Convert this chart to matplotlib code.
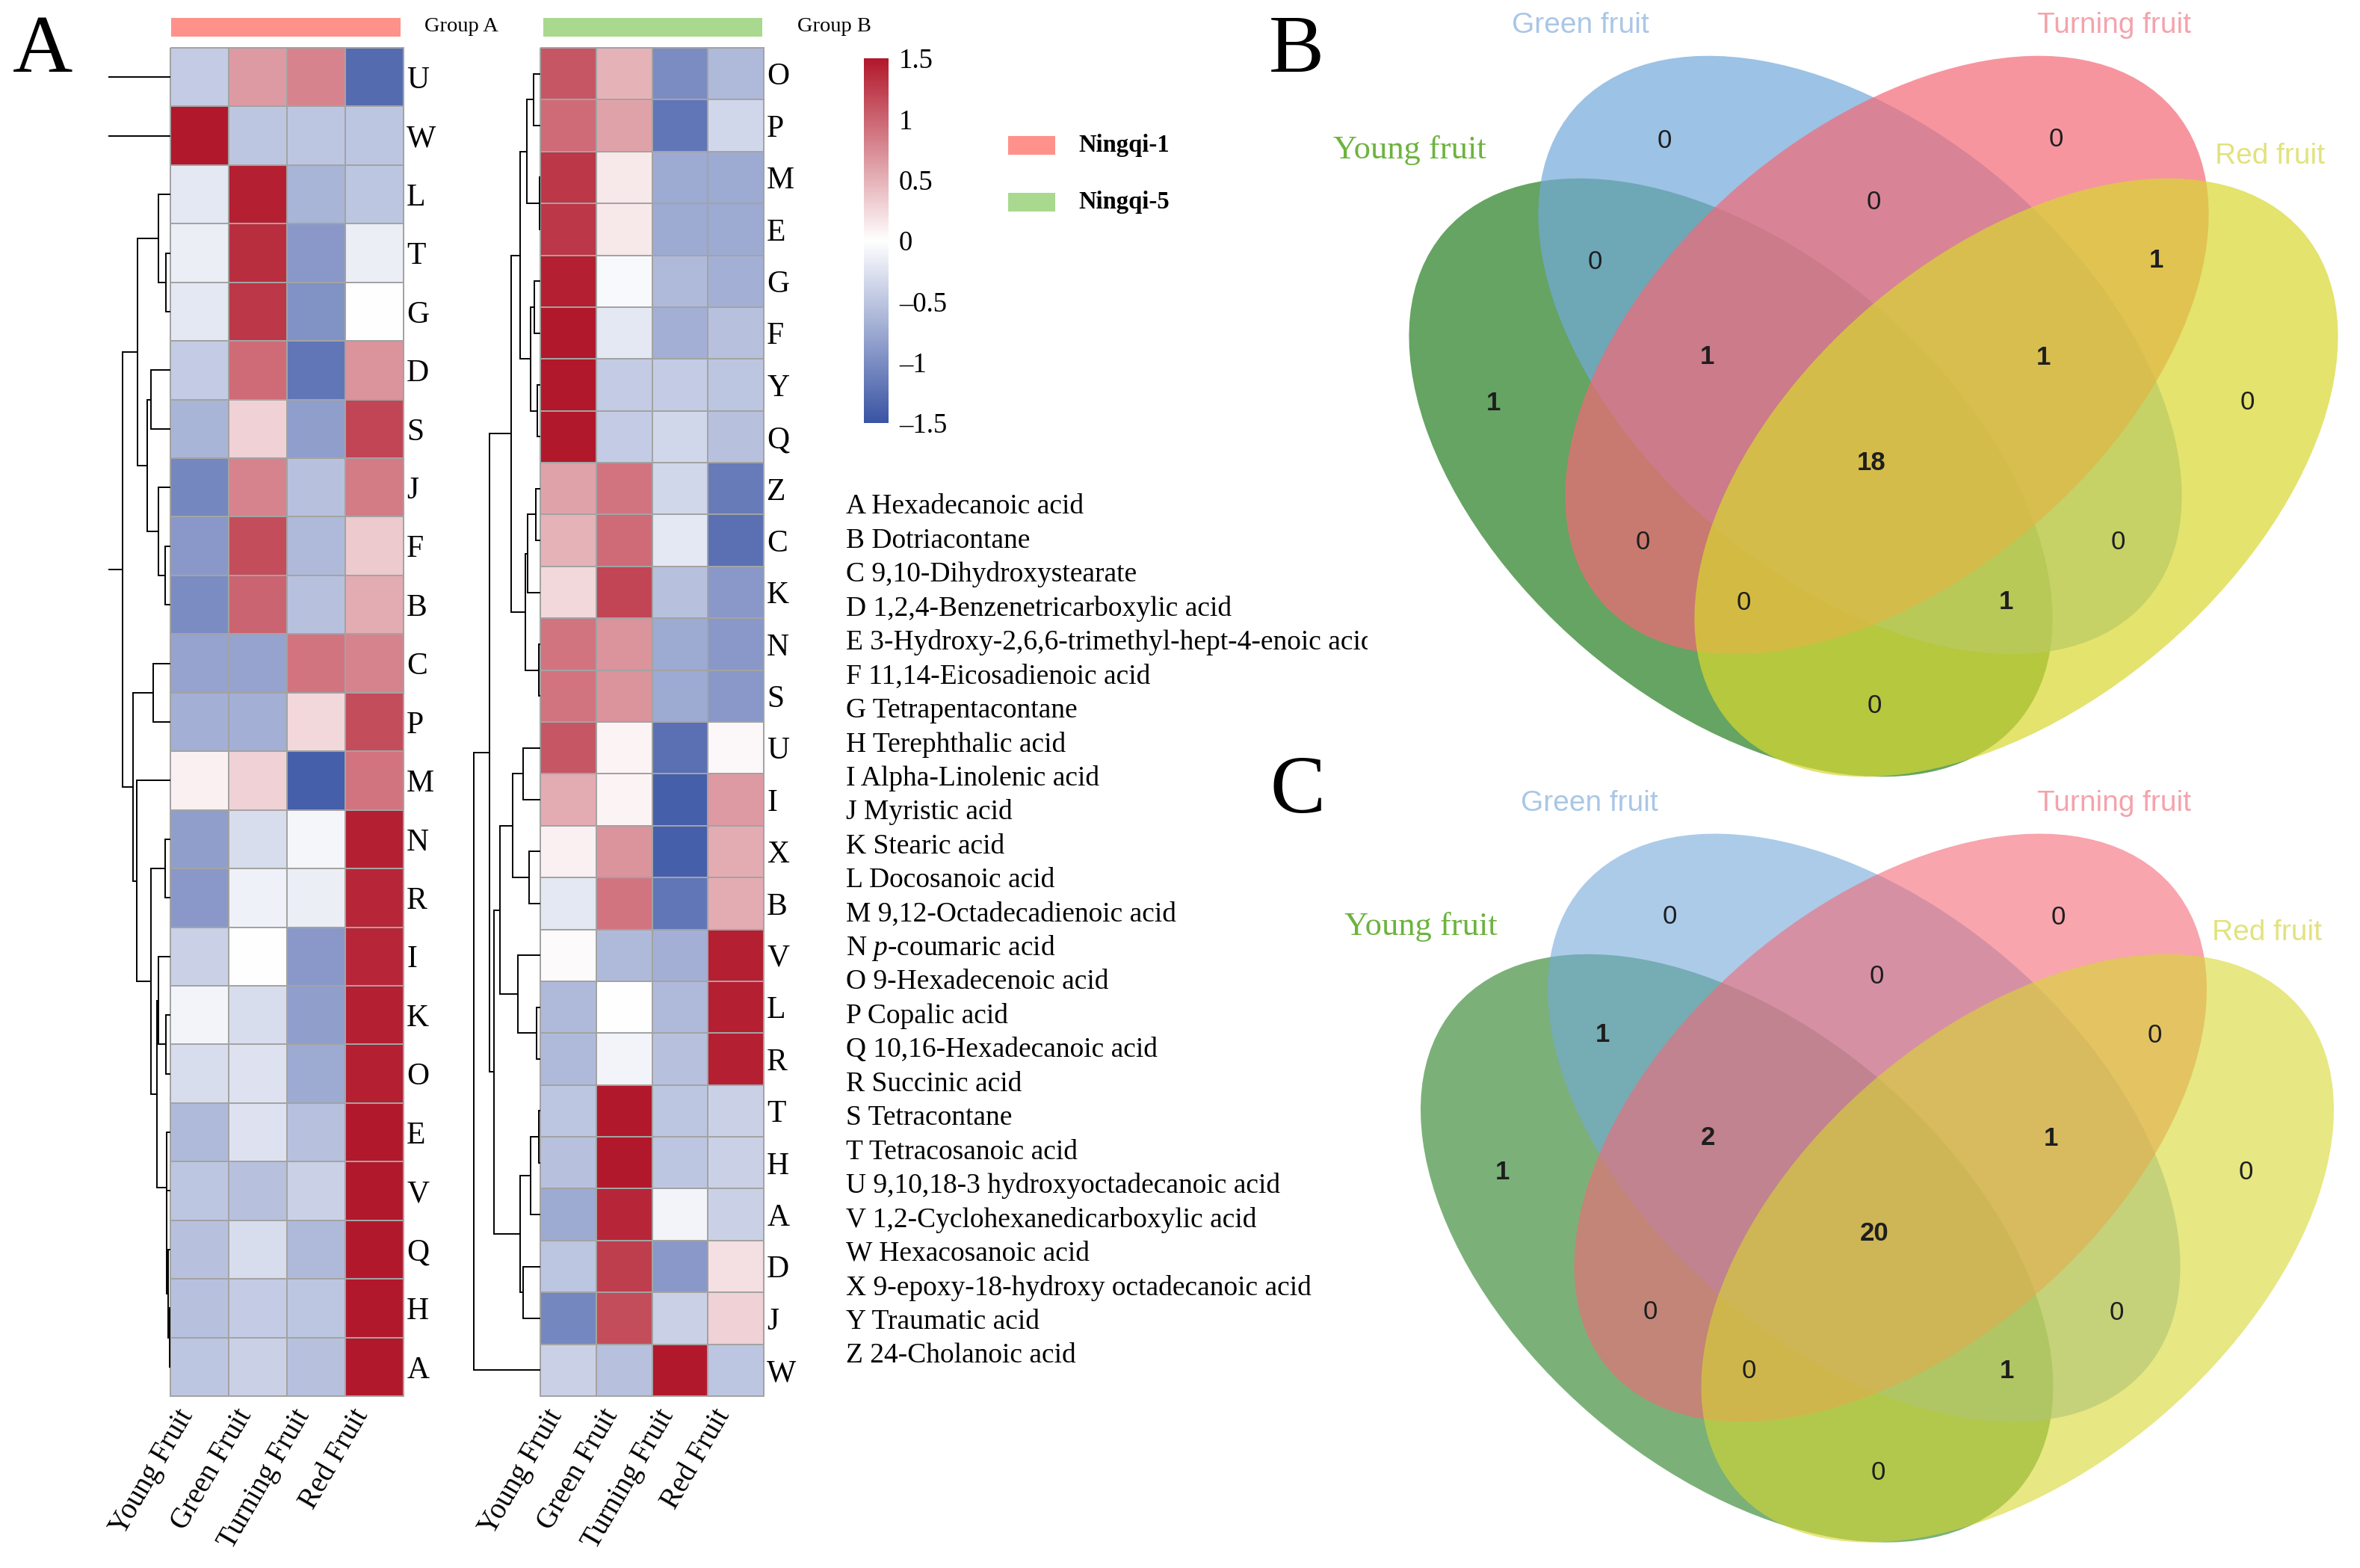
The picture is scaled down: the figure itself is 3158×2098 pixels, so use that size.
import numpy as np
import matplotlib
matplotlib.use("Agg")
import matplotlib.pyplot as plt
from matplotlib.colors import LinearSegmentedColormap, Normalize
from matplotlib.cm import ScalarMappable
from matplotlib.patches import Ellipse, Rectangle

W, H = 3158, 2098
DPI = 100

plt.rcParams['font.family'] = ['Liberation Serif', 'DejaVu Serif']
plt.rcParams['mathtext.fontset'] = 'custom'
plt.rcParams['mathtext.rm'] = 'Liberation Serif'
plt.rcParams['mathtext.it'] = 'Liberation Serif:italic'

# —— data —— #
stages = ["Young Fruit", "Green Fruit", "Turning Fruit", "Red Fruit"]

# Ningqi-1 (group A), z-scores
rows_a = ["U", "W", "L", "T", "G", "D", "S", "J", "F", "B", "C", "P",
          "M", "N", "R", "I", "K", "O", "E", "V", "Q", "H", "A"]
vals_a = [
    [-0.45, 0.65, 0.80, -1.30],
    [1.50, -0.50, -0.50, -0.50],
    [-0.20, 1.45, -0.65, -0.50],
    [-0.15, 1.35, -0.90, -0.15],
    [-0.20, 1.30, -0.95, 0.00],
    [-0.45, 0.95, -1.20, 0.70],
    [-0.65, 0.30, -0.85, 1.20],
    [-1.05, 0.80, -0.55, 0.85],
    [-0.90, 1.15, -0.60, 0.35],
    [-1.00, 1.00, -0.55, 0.55],
    [-0.80, -0.80, 0.90, 0.80],
    [-0.70, -0.70, 0.25, 1.15],
    [0.10, 0.30, -1.40, 0.90],
    [-0.85, -0.30, -0.08, 1.45],
    [-0.90, -0.12, -0.15, 1.40],
    [-0.40, 0.00, -0.90, 1.40],
    [-0.10, -0.30, -0.85, 1.45],
    [-0.30, -0.25, -0.75, 1.45],
    [-0.60, -0.25, -0.55, 1.50],
    [-0.50, -0.55, -0.40, 1.50],
    [-0.55, -0.30, -0.60, 1.50],
    [-0.55, -0.45, -0.50, 1.50],
    [-0.50, -0.40, -0.55, 1.50],
]
# row clustering: (child, child, height); ints point to earlier merges
merges_a = [
    ("T", "G", 5.7), ("L", 0, 15.7), ("D", "S", 26.4), ("F", "B", 7.3),
    ("J", 3, 16.1), (2, 4, 30.6), (1, 5, 44.0), ("C", "P", 23.3),
    ("N", "R", 7.3), ("K", "O", 6.5), ("I", 9, 16.1), ("H", "A", 1.5),
    ("Q", 11, 2.7), ("V", 12, 4.6), ("E", 13, 5.4), (10, 14, 17.6),
    (8, 15, 25.6), ("M", 16, 44.8), (7, 17, 49.8), (6, 18, 63.9),
    ("W", 19, 100.0), ("U", 20, 110.0),
]

# Ningqi-5 (group B)
rows_b = ["O", "P", "M", "E", "G", "F", "Y", "Q", "Z", "C", "K", "N", "S",
          "U", "I", "X", "B", "V", "L", "R", "T", "H", "A", "D", "J", "W"]
vals_b = [
    [1.10, 0.50, -1.00, -0.60],
    [0.95, 0.60, -1.20, -0.35],
    [1.30, 0.15, -0.75, -0.75],
    [1.30, 0.15, -0.75, -0.75],
    [1.45, -0.05, -0.60, -0.70],
    [1.50, -0.20, -0.70, -0.55],
    [1.50, -0.45, -0.45, -0.50],
    [1.50, -0.45, -0.35, -0.55],
    [0.60, 0.90, -0.35, -1.15],
    [0.50, 0.95, -0.20, -1.25],
    [0.25, 1.20, -0.55, -0.90],
    [0.90, 0.70, -0.75, -0.90],
    [0.90, 0.70, -0.75, -0.90],
    [1.10, 0.08, -1.25, 0.05],
    [0.55, 0.08, -1.40, 0.65],
    [0.10, 0.70, -1.40, 0.55],
    [-0.20, 0.90, -1.20, 0.55],
    [0.03, -0.60, -0.70, 1.45],
    [-0.60, 0.00, -0.60, 1.45],
    [-0.60, -0.10, -0.55, 1.45],
    [-0.50, 1.50, -0.50, -0.40],
    [-0.55, 1.50, -0.50, -0.40],
    [-0.75, 1.40, -0.10, -0.40],
    [-0.50, 1.25, -0.90, 0.20],
    [-1.05, 1.15, -0.40, 0.30],
    [-0.40, -0.55, 1.50, -0.50],
]
merges_b = [
    ("O", "P", 8.9), ("M", "E", 1.3), (0, 1, 18.2), ("G", "F", 8.0),
    ("Y", "Q", 3.8), (3, 4, 12.8), (2, 5, 26.8), ("Z", "C", 6.1),
    (7, "K", 16.6), ("N", "S", 1.6), (8, 9, 20.4), (6, 10, 39.2),
    ("U", "I", 23.0), ("X", "B", 15.0), (12, 13, 37.3), ("L", "R", 5.4),
    ("V", 15, 30.3), (14, 16, 54.2), ("T", "H", 2.2), (18, "A", 13.4),
    ("D", "J", 23.3), (19, 20, 27.1), (17, 21, 62.2), (11, 22, 67.9),
    (23, "W", 89.3),
]

compounds = [
    "A Hexadecanoic acid", "B Dotriacontane", "C 9,10-Dihydroxystearate",
    "D 1,2,4-Benzenetricarboxylic acid",
    "E 3-Hydroxy-2,6,6-trimethyl-hept-4-enoic acid",
    "F 11,14-Eicosadienoic acid", "G Tetrapentacontane", "H Terephthalic acid",
    "I Alpha-Linolenic acid", "J Myristic acid", "K Stearic acid",
    "L Docosanoic acid", "M 9,12-Octadecadienoic acid",
    "N $\\mathit{p}$-coumaric acid", "O 9-Hexadecenoic acid", "P Copalic acid",
    "Q 10,16-Hexadecanoic acid", "R Succinic acid", "S Tetracontane",
    "T Tetracosanoic acid", "U 9,10,18-3 hydroxyoctadecanoic acid",
    "V 1,2-Cyclohexanedicarboxylic acid", "W Hexacosanoic acid",
    "X 9-epoxy-18-hydroxy octadecanoic acid", "Y Traumatic acid",
    "Z 24-Cholanoic acid",
]

cbar_ticks = [-1.5, -1, -0.5, 0, 0.5, 1, 1.5]

venn_sets = ["Young fruit", "Green fruit", "Turning fruit", "Red fruit"]
# regions as index tuples into venn_sets
venn_regions = [(0,), (1,), (2,), (3,), (0, 1), (1, 2), (2, 3), (0, 1, 2),
                (1, 2, 3), (0, 1, 2, 3), (0, 2), (1, 3), (0, 2, 3), (0, 1, 3), (0, 3)]
venn_counts_b = [1, 0, 0, 0, 0, 0, 1, 1, 1, 18, 0, 0, 0, 1, 0]
venn_counts_c = [1, 0, 0, 0, 1, 0, 0, 2, 1, 20, 0, 0, 0, 1, 0]

# —— styles / layout —— #
cmap = LinearSegmentedColormap.from_list("bwr_h", ["#3A54A4", "#FFFFFF", "#B2182B"])
norm = Normalize(-1.5, 1.5)
pink = "#FF918B"
green = "#A9D98F"
venn_colors = ["#247E20", "#73A9DB", "#F46977", "#D8D830"]
label_colors = ["#6DB33F", "#A9C6E6", "#F4A3AC", "#E2E27E"]
sans_narrow = ["Liberation Sans Narrow", "Liberation Sans", "DejaVu Sans"]

ell_off = [(-191, 164), (-18, 0), (18, 0), (191, 164)]
ell_ang = [40.6, 40.6, -40.6, -40.6]
ell_a, ell_b = 505, 301
set_lab_off = [(-621, -274), (-392, -441), (322, -441), (531, -266)]
# small shifts of the count labels from the deepest point of each region
lab_nudge = [(-7, 23), (-49, 21), (14, 21), (-2, 23), (-10, 27), (0, 8),
             (15, 27), (-30, 45), (35, 45), (-3, -29), (6, 1), (12, 3),
             (2, -7), (1, -7), (1, 1)]


def rect(x, y, w, h):
    return [x / W, 1 - (y + h) / H, w / W, h / H]


def draw_heat(ax, vals, rows):
    n = len(rows)
    mesh = ax.pcolormesh(np.array(vals), cmap=cmap, norm=norm,
                         edgecolors="#A3A3A3", linewidth=1.3)
    mesh.set_clip_on(False)
    ax.set_xlim(0, len(stages))
    ax.set_ylim(n, 0)
    ax.set_yticks(np.arange(n) + 0.5, rows)
    ax.yaxis.tick_right()
    ax.set_xticks(np.arange(len(stages)) + 0.5, stages, rotation=60,
                  ha="right", va="top")
    ax.tick_params(axis="y", length=0, labelsize=30, pad=3)
    ax.tick_params(axis="x", length=0, labelsize=28, pad=8)
    for s in ax.spines.values():
        s.set_visible(False)


def draw_dendro(ax, leaves, merges, hmax):
    pos = {name: i + 0.5 for i, name in enumerate(leaves)}
    hgt = {name: 0.0 for name in leaves}
    for k, (c1, c2, h) in enumerate(merges):
        y1, y2 = pos[c1], pos[c2]
        ax.plot([hgt[c1], h, h, hgt[c2]], [y1, y1, y2, y2],
                color="black", lw=1.4, solid_joinstyle="miter")
        pos[k] = (y1 + y2) / 2
        hgt[k] = h
    ax.set_xlim(hmax, 0)
    ax.set_ylim(len(leaves), 0)
    ax.axis("off")


def inside(X, Y, cx, cy, a, b, ang):
    t = np.deg2rad(ang)
    dx, dy = X - cx, Y - cy
    u = dx * np.cos(t) + dy * np.sin(t)
    v = -dx * np.sin(t) + dy * np.cos(t)
    return (u / a) ** 2 + (v / b) ** 2 <= 1


def draw_venn(ax, x0, y0, s, counts, alpha):
    cents = [(x0 + dx * s, y0 + dy * s) for dx, dy in ell_off]
    for (cx, cy), ang, col in zip(cents, ell_ang, venn_colors):
        ax.add_patch(Ellipse((cx, cy), 2 * ell_a * s, 2 * ell_b * s, angle=ang,
                             facecolor=col, edgecolor="none", alpha=alpha))
    # label spot = deepest point of each region (grid erosion)
    xs = np.arange(x0 - 700 * s, x0 + 700 * s, 3)
    ys = np.arange(y0 - 480 * s, y0 + 640 * s, 3)
    X, Y = np.meshgrid(xs, ys)
    ins = [inside(X, Y, cx, cy, ell_a * s, ell_b * s, ang)
           for (cx, cy), ang in zip(cents, ell_ang)]
    for reg, cnt, (nx, ny) in zip(venn_regions, counts, lab_nudge):
        m = np.ones_like(X, dtype=bool)
        for i in range(4):
            m &= ins[i] if i in reg else ~ins[i]
        last, k = m, 0
        while m.any():
            last = m
            e = m.copy()
            e[1:, :] &= m[:-1, :]
            e[:-1, :] &= m[1:, :]
            e[:, 1:] &= m[:, :-1]
            e[:, :-1] &= m[:, 1:]
            if k % 2:
                e[1:, 1:] &= m[:-1, :-1]
                e[:-1, :-1] &= m[1:, 1:]
                e[1:, :-1] &= m[:-1, 1:]
                e[:-1, 1:] &= m[1:, :-1]
            e[0, :] = e[-1, :] = False
            e[:, 0] = e[:, -1] = False
            m, k = e, k + 1
        ax.text(X[last].mean() + nx * s, Y[last].mean() + ny * s, str(cnt),
                fontsize=25, family=sans_narrow,
                weight="bold" if cnt else "normal",
                color="#1E1E1E", ha="center", va="center")
    for i, (name, col, (lx, ly)) in enumerate(zip(venn_sets, label_colors, set_lab_off)):
        fam = ["Liberation Serif"] if i == 0 else sans_narrow
        ax.text(x0 + lx * s, y0 + ly * s, name, fontsize=32 if i == 0 else 28,
                family=fam, color=col, ha="center", va="center")


fig = plt.figure(figsize=(W / DPI, H / DPI), dpi=DPI)

over = fig.add_axes([0, 0, 1, 1])
over.set_xlim(0, W)
over.set_ylim(H, 0)
over.axis("off")

# —— heatmaps —— #
ax_h1 = fig.add_axes(rect(228, 64, 312, 1804))
draw_heat(ax_h1, vals_a, rows_a)
ax_d1 = fig.add_axes(rect(145, 64, 83, 1804))
draw_dendro(ax_d1, rows_a, merges_a, 83)

ax_h2 = fig.add_axes(rect(723, 64, 299, 1804))
draw_heat(ax_h2, vals_b, rows_b)
ax_d2 = fig.add_axes(rect(628, 64, 95, 1804))
draw_dendro(ax_d2, rows_b, merges_b, 95)

# group bars
over.add_patch(Rectangle((229, 24), 307, 25, color=pink, lw=0))
over.text(568, 36, "Group A", fontsize=20.5, ha="left", va="center")
over.add_patch(Rectangle((727, 24), 293, 25, color=green, lw=0))
over.text(1067, 36, "Group B", fontsize=20.5, ha="left", va="center")

# colorbar
cax = fig.add_axes(rect(1156, 78, 33, 488))
cb = fig.colorbar(ScalarMappable(norm=norm, cmap=cmap), cax=cax, ticks=cbar_ticks)
cb.outline.set_visible(False)
cb.set_ticklabels([f"{t:g}".replace("-", "\u2013") for t in cbar_ticks])
cax.tick_params(length=0, labelsize=26.5, pad=10)

# legend
for yy, col, name in [(182, pink, "Ningqi-1"), (258, green, "Ningqi-5")]:
    over.add_patch(Rectangle((1349, yy), 63, 25, color=col, lw=0))
    over.text(1443, yy + 12, name, fontsize=23.5, weight="bold",
              ha="left", va="center")

# compound list (clipped on the right like the original)
ax_list = fig.add_axes(rect(1100, 640, 730, 1220))
ax_list.set_xlim(1100, 1830)
ax_list.set_ylim(1860, 640)
ax_list.axis("off")
for i, name in enumerate(compounds):
    ax_list.text(1132, 678 + i * 45.44, name, fontsize=27, ha="left",
                 va="center", clip_on=True)

# panel letters
over.text(57, 96, "A", fontsize=80, ha="center", va="baseline")
over.text(1735, 96, "B", fontsize=80, ha="center", va="baseline")
over.text(1736, 1087, "C", fontsize=80, ha="center", va="baseline")

# —— venn diagrams —— #
draw_venn(over, 2507, 475, 1.0, venn_counts_b, 0.7)
draw_venn(over, 2512, 1509, 0.983, venn_counts_c, 0.6)

fig.savefig("out.png", dpi=DPI)
